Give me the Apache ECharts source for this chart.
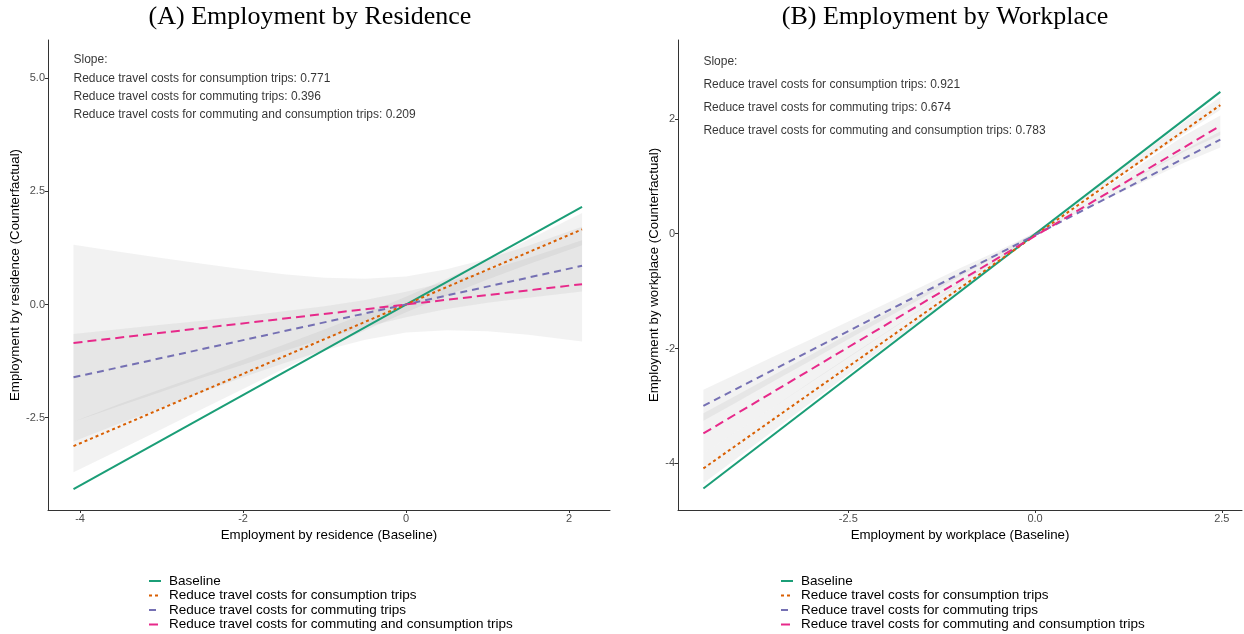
<!DOCTYPE html>
<html>
<head>
<meta charset="utf-8">
<script src="https://cdn.jsdelivr.net/npm/echarts@6/dist/echarts.min.js"></script>
<style>
html,body{margin:0;padding:0;background:#fff;}
#main{width:1244px;height:634px;}
</style>
</head>
<body>
<div id="main"></div>
<script>
// ---------------- DATA ----------------
const seriesNames = [
  'Baseline',
  'Reduce travel costs for consumption trips',
  'Reduce travel costs for commuting trips',
  'Reduce travel costs for commuting and consumption trips'
];
const panelTitles = ['(A) Employment by Residence', '(B) Employment by Workplace'];
const xTitles = ['Employment by residence (Baseline)', 'Employment by workplace (Baseline)'];
const yTitles = ['Employment by residence (Counterfactual)', 'Employment by workplace (Counterfactual)'];
const slopesA = ['0.771', '0.396', '0.209'];
const slopesB = ['0.921', '0.674', '0.783'];

// tick labels
const xTicksA = [-4, -2, 0, 2];
const yTicksA = [-2.5, 0, 2.5, 5];
const xTicksB = [-2.5, 0, 2.5];
const yTicksB = [-4, -2, 0, 2];

// fitted line end points (x at ends, y per series)
const xEndsA = [-4.08, 2.16];
const baselineA = [-4.08, 2.16];
const consumptionA = [-3.13, 1.66];
const commutingA = [-1.61, 0.855];
const bothA = [-0.85, 0.45];

const xEndsB = [-4.44, 2.48];
const baselineB = [-4.44, 2.47];
const consumptionB = [-4.09, 2.24];
const commutingB = [-3.0, 1.64];
const bothB = [-3.48, 1.88];

// confidence bands (panel A)
const bandXA = [-4.08, -3.5, -3, -2.5, -2, -1.5, -1, -0.5, 0, 0.5, 1, 1.5, 2.16];
const consLoA = [-3.71, -3.20, -2.76, -2.31, -1.87, -1.42, -0.99, -0.57, -0.17, 0.20, 0.55, 0.89, 1.31];
const consHiA = [-2.59, -2.19, -1.87, -1.55, -1.22, -0.89, -0.55, -0.20, 0.17, 0.57, 0.99, 1.43, 2.02];
const commLoA = [-2.59, -2.23, -1.93, -1.62, -1.33, -1.03, -0.75, -0.50, -0.28, -0.10, 0.04, 0.15, 0.29];
const commHiA = [-0.65, -0.54, -0.45, -0.36, -0.26, -0.15, -0.04, 0.10, 0.28, 0.50, 0.75, 1.03, 1.42];
const bothLoA = [-3.03, -2.62, -2.28, -1.94, -1.61, -1.30, -1.01, -0.78, -0.62, -0.57, -0.59, -0.67, -0.82];
const bothHiA = [1.32, 1.16, 1.03, 0.90, 0.78, 0.67, 0.59, 0.57, 0.62, 0.78, 1.01, 1.30, 1.72];

// confidence bands (panel B)
const bandXB = [-4.44, -4, -3.5, -3, -2.5, -2, -1.5, -1, -0.5, 0, 0.5, 1, 1.5, 2, 2.48];
const consLoB = [-4.35, -3.92, -3.43, -2.94, -2.45, -1.97, -1.48, -0.99, -0.50, -0.02, 0.44, 0.87, 1.31, 1.74, 2.16];
const consHiB = [-3.83, -3.45, -3.02, -2.58, -2.15, -1.72, -1.29, -0.85, -0.42, 0.02, 0.48, 0.97, 1.46, 1.95, 2.38];
const commLoB = [-3.26, -2.94, -2.57, -2.21, -1.84, -1.48, -1.11, -0.74, -0.38, -0.02, 0.32, 0.63, 0.93, 1.24, 1.50];
const commHiB = [-2.72, -2.45, -2.14, -1.84, -1.53, -1.22, -0.91, -0.60, -0.30, 0.02, 0.36, 0.72, 1.09, 1.46, 1.78];
const bothLoB = [-3.83, -3.45, -3.02, -2.59, -2.16, -1.73, -1.30, -0.87, -0.45, -0.02, 0.36, 0.72, 1.07, 1.43, 1.72];
const bothHiB = [-3.13, -2.82, -2.46, -2.11, -1.75, -1.40, -1.05, -0.69, -0.34, 0.02, 0.42, 0.85, 1.28, 1.71, 2.06];

// ---------------- STYLE ----------------
const colors = ['#1b9e77', '#d95f02', '#7570b3', '#e7298a'];
const dashes = ['solid', [3, 3], [7, 5], [9, 5]];
const sans = 'Liberation Sans, Arial, Helvetica, sans-serif';
const serif = 'Liberation Serif, Times New Roman, serif';

function pairs(xs, ys) { return xs.map((x, i) => [x, ys[i]]); }
function triples(xs, lo, hi) { return xs.map((x, i) => [x, lo[i], hi[i]]); }

function bandSeries(idx, xs, lo, hi) {
  const rows = triples(xs, lo, hi);
  return {
    type: 'custom', xAxisIndex: idx, yAxisIndex: idx, silent: true, z: 1,
    data: rows,
    encode: { x: 0, y: [1, 2] },
    renderItem: function (params, api) {
      if (params.dataIndex !== 0) return null;
      const up = rows.map(r => api.coord([r[0], r[2]]));
      const dn = rows.map(r => api.coord([r[0], r[1]])).reverse();
      return { type: 'polygon', shape: { points: up.concat(dn) },
        style: { fill: 'rgba(150,150,150,0.12)', stroke: null } };
    }
  };
}

function lineSeries(idx, k, xs, ys) {
  return {
    type: 'line', name: seriesNames[k], xAxisIndex: idx, yAxisIndex: idx,
    data: pairs(xs, ys), symbol: 'none', silent: true, z: 3 + k,
    color: colors[k],
    lineStyle: { color: colors[k], width: 2, type: dashes[k] },
    animation: false
  };
}

function textSeries(idx, x, ys, texts) {
  return {
    type: 'scatter', xAxisIndex: idx, yAxisIndex: idx, symbolSize: 0, silent: true, z: 10,
    data: ys.map((y, i) => ({ value: [x, y], label: { formatter: texts[i] } })),
    label: { show: true, position: 'right', distance: 0, color: '#000',
      fontFamily: sans, fontSize: 12 }
  };
}

function xAxisCfg(idx, min, max, ticks, name) {
  return {
    type: 'value', gridIndex: idx, min: min, max: max,
    name: name, nameLocation: 'middle', nameGap: 17,
    nameTextStyle: { fontFamily: sans, fontSize: 13.3, color: '#000' },
    axisLine: { show: true, onZero: false, lineStyle: { color: '#333', width: 1 } },
    axisTick: { show: true, length: 3, customValues: ticks, lineStyle: { color: '#333' } },
    axisLabel: { customValues: ticks, margin: 3, color: '#4d4d4d', fontFamily: sans, fontSize: 11,
      formatter: v => (idx === 1 ? v.toFixed(1) : String(v)) },
    splitLine: { show: false }
  };
}
function yAxisCfg(idx, min, max, ticks, name, gap, fmt) {
  return {
    type: 'value', gridIndex: idx, min: min, max: max,
    name: name, nameLocation: 'middle', nameGap: gap,
    nameTextStyle: { fontFamily: sans, fontSize: 13.3, color: '#000' },
    axisLine: { show: true, onZero: false, lineStyle: { color: '#333', width: 1 } },
    axisTick: { show: true, length: 3, customValues: ticks, lineStyle: { color: '#333' } },
    axisLabel: { customValues: ticks, margin: 3, color: '#4d4d4d', fontFamily: sans, fontSize: 11,
      formatter: fmt },
    splitLine: { show: false }
  };
}

const textsA = ['Slope:'].concat(slopesA.map((s, i) => seriesNames[i + 1] + ': ' + s));
const textsB = ['Slope:'].concat(slopesB.map((s, i) => seriesNames[i + 1] + ': ' + s));

const legendBase = {
  orient: 'vertical', itemWidth: 12, itemHeight: 10, itemGap: 0.5, padding: 0,
  height: 62, data: seriesNames, selectedMode: false,
  itemStyle: { opacity: 0 },
  textStyle: { fontFamily: sans, fontSize: 13.5, color: '#000', lineHeight: 14, padding: [0, 0, 0, 3] }
};

const option = {
  animation: false,
  backgroundColor: '#fff',
  grid: [
    { left: 48, top: 40, width: 562, height: 470 },
    { left: 678, top: 40, width: 564, height: 470 }
  ],
  xAxis: [
    xAxisCfg(0, -4.393, 2.503, xTicksA, xTitles[0]),
    xAxisCfg(1, -4.78, 2.77, xTicksB, xTitles[1])
  ],
  yAxis: [
    yAxisCfg(0, -4.542, 5.846, yTicksA, yTitles[0], 25, v => v.toFixed(1)),
    yAxisCfg(1, -4.814, 3.374, yTicksB, yTitles[1], 16, v => String(v))
  ],
  legend: [
    Object.assign({}, legendBase, { left: 148, top: 574 }),
    Object.assign({}, legendBase, { left: 780, top: 574 })
  ],
  graphic: [
    { type: 'text', x: 310, y: 17, style: { text: panelTitles[0], font: '26px ' + serif, fill: '#000',
      textAlign: 'center', textVerticalAlign: 'middle' } },
    { type: 'text', x: 945, y: 17, style: { text: panelTitles[1], font: '26px ' + serif, fill: '#000',
      textAlign: 'center', textVerticalAlign: 'middle' } }
  ],
  series: [
    bandSeries(0, bandXA, bothLoA, bothHiA),
    bandSeries(0, bandXA, commLoA, commHiA),
    bandSeries(0, bandXA, consLoA, consHiA),
    bandSeries(1, bandXB, bothLoB, bothHiB),
    bandSeries(1, bandXB, commLoB, commHiB),
    bandSeries(1, bandXB, consLoB, consHiB),
    lineSeries(0, 0, xEndsA, baselineA),
    lineSeries(0, 1, xEndsA, consumptionA),
    lineSeries(0, 2, xEndsA, commutingA),
    lineSeries(0, 3, xEndsA, bothA),
    lineSeries(1, 0, xEndsB, baselineB),
    lineSeries(1, 1, xEndsB, consumptionB),
    lineSeries(1, 2, xEndsB, commutingB),
    lineSeries(1, 3, xEndsB, bothB),
    textSeries(0, xEndsA[0], [5.4, 5.0, 4.6, 4.2], textsA),
    textSeries(1, xEndsB[0], [3.0, 2.6, 2.2, 1.8], textsB)
  ]
};

const chart = echarts.init(document.getElementById('main'), null, { renderer: 'canvas' });
chart.setOption(option);
</script>
</body>
</html>
